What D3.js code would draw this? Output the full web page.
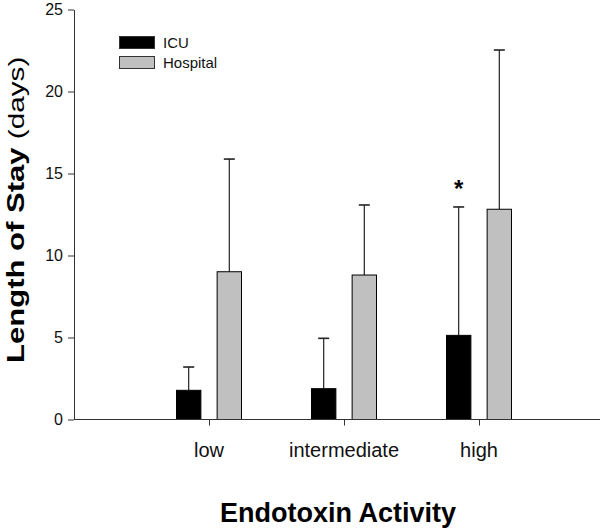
<!DOCTYPE html>
<html>
<head>
<meta charset="utf-8">
<script src="https://cdn.jsdelivr.net/npm/d3@7"></script>
<style>
  body { margin: 0; background: #fff; }
  svg { display: block; font-family: Arial, "Liberation Sans", sans-serif; }
</style>
</head>
<body>
<div id="chart"></div>
<script>
// data
const categories = ["low", "intermediate", "high"];
const seriesNames = ["ICU", "Hospital"];
const icuMean = [1.78, 1.88, 5.13];
const icuUpper = [3.2, 4.95, 12.96];
const hospitalMean = [9.01, 8.81, 12.82];
const hospitalUpper = [15.88, 13.08, 22.53];
const yTicks = [0, 5, 10, 15, 20, 25];
const starCategory = "high";

const width = 600;
const height = 531;

const svg = d3.select("#chart")
    .append("svg")
    .attr("width", width)
    .attr("height", height);

const x = d3.scalePoint()
    .domain(categories)
    .range([74, 614])
    .padding(1);

const sub = d3.scaleBand()
    .domain(seriesNames)
    .range([-32.5, 32.5])
    .paddingInner(0.4);

const y = d3.scaleLinear()
    .domain([0, 25])
    .range([419.5, 9.5]);

const colors = { ICU: "#000000", Hospital: "#c0c0c0" };

const rows = [];
categories.forEach((c, i) => {
  rows.push({ cat: c, series: "ICU", mean: icuMean[i], upper: icuUpper[i] });
  rows.push({ cat: c, series: "Hospital", mean: hospitalMean[i], upper: hospitalUpper[i] });
});

// error bars (drawn first so bars sit on top)
const eb = svg.append("g").attr("stroke", "#222").attr("stroke-width", 1.2);
eb.selectAll("line.v")
    .data(rows)
    .join("line")
    .attr("class", "v")
    .attr("x1", d => x(d.cat) + sub(d.series) + sub.bandwidth() / 2)
    .attr("x2", d => x(d.cat) + sub(d.series) + sub.bandwidth() / 2)
    .attr("y1", d => y(d.mean))
    .attr("y2", d => y(d.upper));
eb.selectAll("line.cap")
    .data(rows)
    .join("line")
    .attr("class", "cap")
    .attr("x1", d => x(d.cat) + sub(d.series) + sub.bandwidth() / 2 - 5.5)
    .attr("x2", d => x(d.cat) + sub(d.series) + sub.bandwidth() / 2 + 5.5)
    .attr("y1", d => y(d.upper))
    .attr("y2", d => y(d.upper))
    .attr("stroke-width", 1.6);

svg.append("g")
    .selectAll("rect")
    .data(rows)
    .join("rect")
    .attr("x", d => x(d.cat) + sub(d.series))
    .attr("y", d => y(d.mean))
    .attr("width", sub.bandwidth())
    .attr("height", d => y(0) - y(d.mean))
    .attr("fill", d => colors[d.series])
    .attr("stroke", "#000")
    .attr("stroke-width", 1);

// axes
const xAxis = svg.append("g")
    .attr("transform", `translate(0,${y(0)})`)
    .call(d3.axisBottom(x).tickSize(6).tickSizeOuter(0).tickFormat(""));
xAxis.select(".domain").attr("d", `M74,0H614`);

xAxis.selectAll(".tick text").remove();
svg.append("g")
    .selectAll("text")
    .data(categories)
    .join("text")
    .attr("x", d => x(d))
    .attr("y", 457)
    .attr("text-anchor", "middle")
    .attr("font-size", 20)
    .attr("fill", "#111")
    .text(d => d);

const yAxis = svg.append("g")
    .attr("transform", "translate(74,0)")
    .call(d3.axisLeft(y).tickValues(yTicks).tickSize(6).tickSizeOuter(0).tickPadding(5));
yAxis.selectAll("text").attr("font-size", 16).attr("fill", "#111");
svg.selectAll(".domain, .tick line").attr("stroke", "#333");

// axis titles
svg.append("text")
    .attr("transform", "translate(24,363) rotate(-90) scale(1.35,1)")
    .attr("text-anchor", "start")
    .attr("fill", "#000")
    .call(t => {
      t.append("tspan").attr("font-size", 23).attr("font-weight", "bold").text("Length of Stay");
      t.append("tspan").attr("font-size", 22).text(" (days)");
    });

svg.append("text")
    .attr("x", 338)
    .attr("y", 522)
    .attr("text-anchor", "middle")
    .attr("font-size", 27)
    .attr("font-weight", "bold")
    .text("Endotoxin Activity");

// significance star above ICU high
const si = categories.indexOf(starCategory);
svg.append("text")
    .attr("x", x(starCategory) + sub("ICU") + sub.bandwidth() / 2)
    .attr("y", y(icuUpper[si]) - 10)
    .attr("text-anchor", "middle")
    .attr("font-size", 24)
    .attr("font-weight", "bold")
    .text("*");

// legend
const legend = svg.append("g");
seriesNames.forEach((s, i) => {
  legend.append("rect")
      .attr("x", 119.5)
      .attr("y", 36.5 + i * 20)
      .attr("width", 35)
      .attr("height", 12)
      .attr("fill", colors[s])
      .attr("stroke", "#333");
  legend.append("text")
      .attr("x", 163)
      .attr("y", 48 + i * 19.5)
      .attr("font-size", 15)
      .attr("fill", "#111")
      .text(s);
});
</script>
</body>
</html>
